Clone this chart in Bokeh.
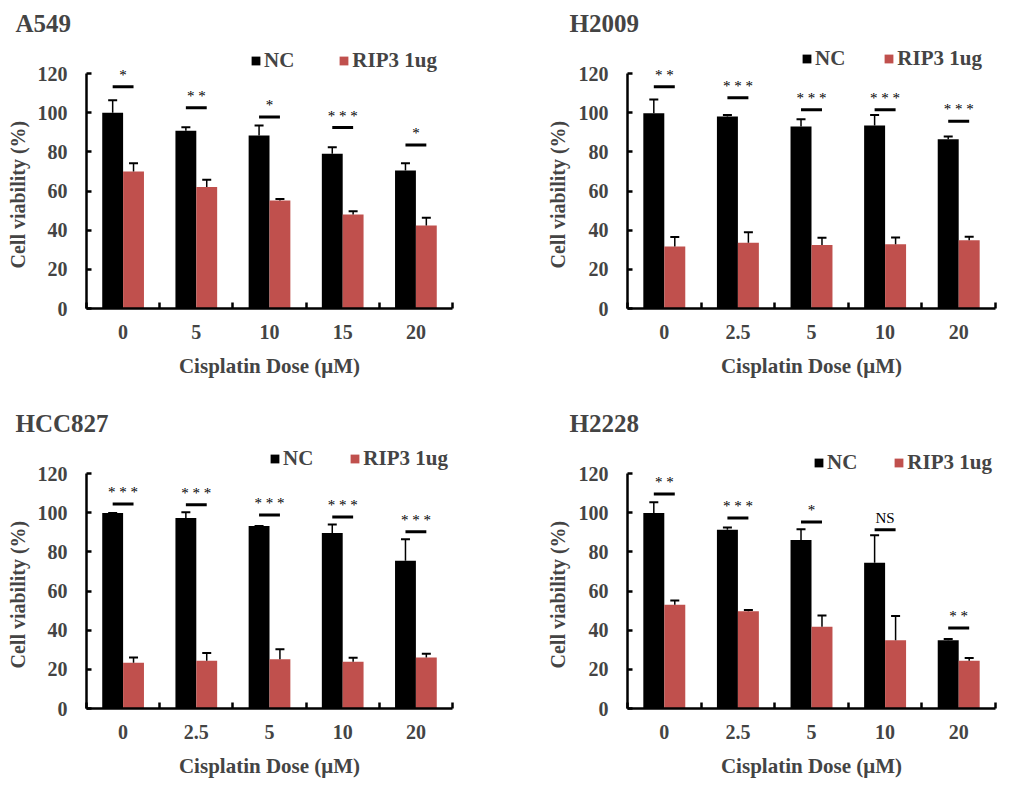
import numpy as np
from bokeh.plotting import figure
from bokeh.layouts import gridplot
from bokeh.models import (ColumnDataSource, FixedTicker, Whisker, TeeHead,
                          Legend, LegendItem, Range1d, Title)
from bokeh.core.properties import value
from bokeh.embed import file_html
from bokeh.resources import INLINE

# ---------------- data ----------------
series_names = ["NC", "RIP3 1ug"]
y_ticks = [0, 20, 40, 60, 80, 100, 120]
x_title = "Cisplatin Dose (\u03bcM)"
y_title = "Cell viability (%)"

a549_doses = ["0", "5", "10", "15", "20"]
a549_nc = [100.0, 90.8, 88.3, 79.0, 70.5]
a549_nc_sd = [6.4, 1.7, 5.1, 3.3, 3.7]
a549_rip3 = [70.0, 62.1, 55.2, 48.0, 42.4]
a549_rip3_sd = [4.2, 3.6, 0.7, 1.7, 3.9]
a549_sig_y = [113.2, 102.5, 97.8, 92.4, 83.5]
a549_sig = ["*", "* *", "*", "* * *", "*"]

h2009_doses = ["0", "2.5", "5", "10", "20"]
h2009_nc = [99.7, 98.1, 93.0, 93.4, 86.4]
h2009_nc_sd = [7.0, 0.7, 3.7, 5.4, 1.4]
h2009_rip3 = [31.7, 33.6, 32.4, 32.8, 34.8]
h2009_rip3_sd = [4.8, 5.4, 3.7, 3.4, 1.9]
h2009_sig_y = [113.2, 107.6, 101.5, 101.5, 95.6]
h2009_sig = ["* *", "* * *", "* * *", "* * *", "* * *"]

hcc827_doses = ["0", "2.5", "5", "10", "20"]
hcc827_nc = [99.8, 97.3, 93.2, 89.6, 75.4]
hcc827_nc_sd = [0.0, 2.9, 0.0, 4.3, 11.0]
hcc827_rip3 = [23.4, 24.4, 25.1, 23.9, 26.1]
hcc827_rip3_sd = [2.6, 4.0, 5.1, 2.0, 1.9]
hcc827_sig_y = [104.4, 104.1, 98.8, 97.8, 90.2]
hcc827_sig = ["* * *", "* * *", "* * *", "* * *", "* * *"]

h2228_doses = ["0", "2.5", "5", "10", "20"]
h2228_nc = [99.8, 91.3, 86.1, 74.4, 34.8]
h2228_nc_sd = [5.5, 1.1, 5.4, 14.1, 0.7]
h2228_rip3 = [53.0, 49.6, 41.8, 34.8, 24.4]
h2228_rip3_sd = [2.2, 0.7, 5.7, 12.4, 1.4]
h2228_sig_y = [109.5, 97.3, 95.2, 91.3, 41.1]
h2228_sig = ["* *", "* * *", "*", "NS", "* *"]

# ---------------- styling ----------------
FONT = "Liberation Serif"
RED = "#C0504D"
BLACK = "#000000"
BAR_W = 0.285
FIG_W, FIG_H = 509, 400
TOP, BOTTOM = 40, 92
FRAME_H = FIG_H - TOP - BOTTOM          # 268 px
Y_END = FRAME_H * 120.0 / 235.0        # 120 sits 235 px above the baseline


def panel(title, doses, nc, nc_sd, rip, rip_sd, sig_y, sig,
          left, right, title_offset, leg_loc, leg_spacing,
          ylab_standoff, ylab_valign):
    n = len(doses)
    centers = np.arange(n) + 0.5
    x_nc = centers - BAR_W / 2
    x_rip = centers + BAR_W / 2

    p = figure(width=FIG_W, height=FIG_H, x_range=Range1d(0, n), y_range=Range1d(0, Y_END),
               output_backend="svg", toolbar_location=None,
               min_border_left=left, min_border_right=right,
               min_border_top=TOP, min_border_bottom=BOTTOM)
    p.outline_line_color = None
    p.xgrid.visible = False
    p.ygrid.visible = False
    p.background_fill_color = "white"

    p.title.text = title
    p.title.align = "left"
    p.title.offset = title_offset
    p.title.text_font = FONT
    p.title.text_font_style = "bold"
    p.title.text_font_size = "25px"
    p.title.standoff = 8

    src_nc = ColumnDataSource(dict(x=x_nc, top=nc, upper=np.array(nc) + np.array(nc_sd)))
    src_rip = ColumnDataSource(dict(x=x_rip, top=rip, upper=np.array(rip) + np.array(rip_sd)))

    r_nc = p.vbar(x="x", top="top", width=BAR_W, source=src_nc,
                  fill_color=BLACK, line_color=None)
    r_rip = p.vbar(x="x", top="top", width=BAR_W, source=src_rip,
                   fill_color=RED, line_color=None)

    for src in (src_nc, src_rip):
        w = Whisker(source=src, base="x", lower="top", upper="upper",
                    line_color=BLACK, line_width=1.5, level="overlay",
                    upper_head=TeeHead(size=9, line_width=2, line_color=BLACK),
                    lower_head=None)
        p.add_layout(w)

    sig_src = ColumnDataSource(dict(x0=x_nc, x1=x_rip, xc=centers, y=sig_y, t=sig))
    p.segment(x0="x0", x1="x1", y0="y", y1="y", source=sig_src,
              line_color=BLACK, line_width=3)
    p.text(x="xc", y="y", text="t", source=sig_src, text_align="center",
           text_baseline="alphabetic", y_offset=-12,
           text_font=value(FONT), text_font_size="15px", text_color=BLACK)

    # x axis
    xa = p.xaxis[0]
    xa.ticker = FixedTicker(ticks=list(centers), minor_ticks=list(range(n + 1)))
    xa.major_label_overrides = {float(c): d for c, d in zip(centers, doses)}
    xa.major_tick_line_color = None
    xa.major_tick_in = 0
    xa.major_tick_out = 0
    xa.minor_tick_in = 6
    xa.minor_tick_out = 0
    xa.minor_tick_line_width = 2.5
    xa.minor_tick_line_color = BLACK
    xa.axis_line_width = 2.5
    xa.axis_line_color = BLACK
    xa.major_label_standoff = 16
    xa.major_label_text_font = FONT
    xa.major_label_text_font_style = "bold"
    xa.major_label_text_font_size = "20px"
    xa.axis_label = x_title
    xa.axis_label_standoff = 12
    xa.axis_label_text_font = FONT
    xa.axis_label_text_font_style = "bold"
    xa.axis_label_text_font_size = "21px"

    # y axis
    ya = p.yaxis[0]
    ya.ticker = FixedTicker(ticks=y_ticks)
    ya.bounds = (0, 120)
    ya.major_tick_in = 5
    ya.major_tick_out = 0
    ya.major_tick_line_width = 2.5
    ya.major_tick_line_color = BLACK
    ya.minor_tick_line_color = None
    ya.axis_line_width = 2.5
    ya.axis_line_color = BLACK
    ya.major_label_standoff = 19
    ya.major_label_text_font = FONT
    ya.major_label_text_font_style = "bold"
    ya.major_label_text_font_size = "20px"

    # y axis title, centred on the 0-120 part of the axis
    ytitle = Title(text=y_title, align="left", offset=40, standoff=ylab_standoff,
                   vertical_align=ylab_valign,
                   text_font=FONT, text_font_style="bold", text_font_size="20px")
    p.add_layout(ytitle, "left")

    leg = Legend(items=[LegendItem(label=series_names[0], renderers=[r_nc]),
                        LegendItem(label=series_names[1], renderers=[r_rip])],
                 location=leg_loc, orientation="horizontal",
                 glyph_width=11, glyph_height=11, label_standoff=3,
                 spacing=leg_spacing, padding=0, margin=0,
                 border_line_color=None, background_fill_alpha=0,
                 label_text_font=FONT, label_text_font_style="bold",
                 label_text_font_size="21px")
    p.add_layout(leg)
    return p


p1 = panel("A549", a549_doses, a549_nc, a549_nc_sd, a549_rip3, a549_rip3_sd,
           a549_sig_y, a549_sig, left=86, right=57,
           title_offset=-71, leg_loc=(164, 235), leg_spacing=44,
           ylab_standoff=8, ylab_valign="top")
p2 = panel("H2009", h2009_doses, h2009_nc, h2009_nc_sd, h2009_rip3, h2009_rip3_sd,
           h2009_sig_y, h2009_sig, left=118, right=23,
           title_offset=-58, leg_loc=(174, 237), leg_spacing=38,
           ylab_standoff=14, ylab_valign="bottom")
p3 = panel("HCC827", hcc827_doses, hcc827_nc, hcc827_nc_sd, hcc827_rip3, hcc827_rip3_sd,
           hcc827_sig_y, hcc827_sig, left=86, right=57,
           title_offset=-71, leg_loc=(183, 237), leg_spacing=36,
           ylab_standoff=8, ylab_valign="top")
p4 = panel("H2228", h2228_doses, h2228_nc, h2228_nc_sd, h2228_rip3, h2228_rip3_sd,
           h2228_sig_y, h2228_sig, left=118, right=23,
           title_offset=-58, leg_loc=(186, 233), leg_spacing=36,
           ylab_standoff=14, ylab_valign="bottom")

grid = gridplot([[p1, p2], [p3, p4]], toolbar_location=None)

open("out.html", "w").write(file_html(grid, INLINE))
